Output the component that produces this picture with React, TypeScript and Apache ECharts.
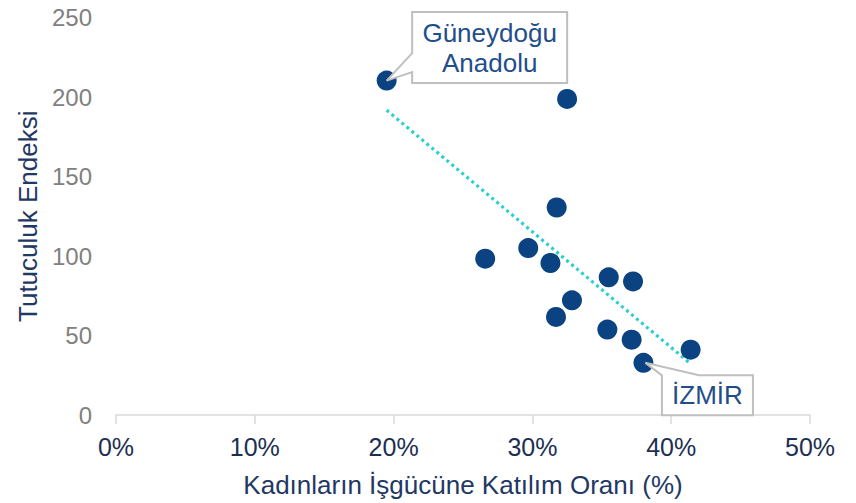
import React, { useEffect, useRef } from "react";
import * as echarts from "echarts";

// Women's labour force participation rate (%) per region
const participation = [19.5, 32.5, 31.75, 26.6, 29.7, 31.3, 35.5, 37.25, 32.85, 31.7, 35.4, 37.15, 38.0, 41.4];
// Conservatism index per region
const conservatism = [210.3, 198.8, 130.5, 98.3, 105, 95.6, 86.6, 84, 72.1, 61.7, 53.7, 47.4, 32.8, 41.1];
// Region names (only the labelled ones are named)
const regionNames = ["Güneydoğu Anadolu", "", "", "", "", "", "", "", "", "", "", "", "İZMİR", ""];

const xTicks = [0, 10, 20, 30, 40, 50];
const yTicks = [0, 50, 100, 150, 200, 250];

const FONT = "'Liberation Sans', Arial, sans-serif";

function regression(xs: number[], ys: number[]) {
  const n = xs.length;
  const mx = xs.reduce((a, b) => a + b, 0) / n;
  const my = ys.reduce((a, b) => a + b, 0) / n;
  let sxy = 0;
  let sxx = 0;
  for (let i = 0; i < n; i++) {
    sxy += (xs[i] - mx) * (ys[i] - my);
    sxx += (xs[i] - mx) * (xs[i] - mx);
  }
  const b = sxy / sxx;
  const a = my - b * mx;
  return { a, b };
}

export default function App() {
  const ref = useRef<HTMLDivElement>(null);

  useEffect(() => {
    document.body.style.margin = "0";
    const chart = echarts.init(ref.current!, undefined, { renderer: "svg" });
    const { a, b } = regression(participation, conservatism);
    const minX = Math.min(...participation);
    const maxX = Math.max(...participation);
    const trend = [
      [minX, a + b * minX],
      [maxX, a + b * maxX],
    ];

    chart.setOption({
      animation: false,
      grid: { left: 116, right: 46, top: 17.5, bottom: 87.5 },
      xAxis: {
        type: "value",
        min: xTicks[0],
        max: xTicks[xTicks.length - 1],
        interval: 10,
        name: "Kadınların İşgücüne Katılım Oranı (%)",
        nameLocation: "middle",
        nameGap: 57,
        nameTextStyle: { color: "#1f3864", fontSize: 26, fontFamily: FONT },
        axisLine: { show: true, lineStyle: { color: "#d9d9d9", width: 1.5 } },
        axisTick: { show: true, length: 9, lineStyle: { color: "#d9d9d9", width: 1.5 } },
        splitLine: { show: false },
        axisLabel: {
          formatter: "{value}%",
          color: "#1c2f52",
          fontSize: 25,
          fontFamily: FONT,
          margin: 19,
        },
      },
      yAxis: {
        type: "value",
        min: yTicks[0],
        max: yTicks[yTicks.length - 1],
        interval: 50,
        name: "Tutuculuk Endeksi",
        nameLocation: "middle",
        nameGap: 69,
        nameRotate: 90,
        nameTextStyle: { color: "#1f3864", fontSize: 26, fontFamily: FONT },
        axisLine: { show: false },
        axisTick: { show: false },
        splitLine: { show: false },
        axisLabel: { color: "#808080", fontSize: 24, fontFamily: FONT, margin: 24 },
      },
      series: [
        {
          type: "line",
          data: trend,
          symbol: "none",
          z: 1,
          lineStyle: { color: "#2ccfd0", width: 3.2, type: [3, 3.5] },
        },
        {
          type: "scatter",
          data: participation.map((x, i) => [x, conservatism[i]]),
          symbolSize: 20,
          z: 2,
          itemStyle: { color: "#0b4281", opacity: 1 },
        },
      ],
    });

    // Callouts positioned from the library's own scale
    const pt = (i: number) => chart.convertToPixel({ seriesIndex: 1 }, [participation[i], conservatism[i]]) as number[];
    const iG = regionNames.indexOf("Güneydoğu Anadolu");
    const iI = regionNames.indexOf("İZMİR");
    const g = pt(iG);
    const z = pt(iI);

    // Güneydoğu box
    const gL = g[0] + 25.5, gT = g[1] - 68.5, gW = 155, gH = 71;
    // İZMİR box
    const zL = z[0] + 18.5, zT = z[1] + 12.5, zW = 91, zH = 40;

    chart.setOption({
      graphic: [
        {
          type: "polygon",
          z: 100,
          shape: {
            points: [
              [gL, gT],
              [gL + gW, gT],
              [gL + gW, gT + gH],
              [gL, gT + gH],
              [gL, gT + 60],
              [g[0], g[1]],
              [gL, gT + 41],
            ],
          },
          style: { fill: "#ffffff", stroke: "#bfbfbf", lineWidth: 2 },
        },
        {
          type: "text",
          z: 101,
          x: gL + gW / 2,
          y: gT + gH / 2,
          style: {
            text: regionNames[iG].replace(" ", "\n"),
            fill: "#1f4e8a",
            font: `26px ${FONT}`,
            lineHeight: 30,
            align: "center",
            verticalAlign: "middle",
          },
        },
        {
          type: "polygon",
          z: 100,
          shape: {
            points: [
              [zL, zT],
              [z[0] + 2, z[1]],
              [zL + 37, zT],
              [zL + zW, zT],
              [zL + zW, zT + zH],
              [zL, zT + zH],
            ],
          },
          style: { fill: "#ffffff", stroke: "#bfbfbf", lineWidth: 2 },
        },
        {
          type: "text",
          z: 101,
          x: zL + zW / 2,
          y: zT + zH / 2,
          style: {
            text: regionNames[iI],
            fill: "#1f4e8a",
            font: `26px ${FONT}`,
            align: "center",
            verticalAlign: "middle",
          },
        },
      ],
    });

    return () => chart.dispose();
  }, []);

  return (
    <div
      ref={ref}
      style={{ position: "absolute", left: 0, top: 0, width: 856, height: 503, background: "#ffffff" }}
    />
  );
}
